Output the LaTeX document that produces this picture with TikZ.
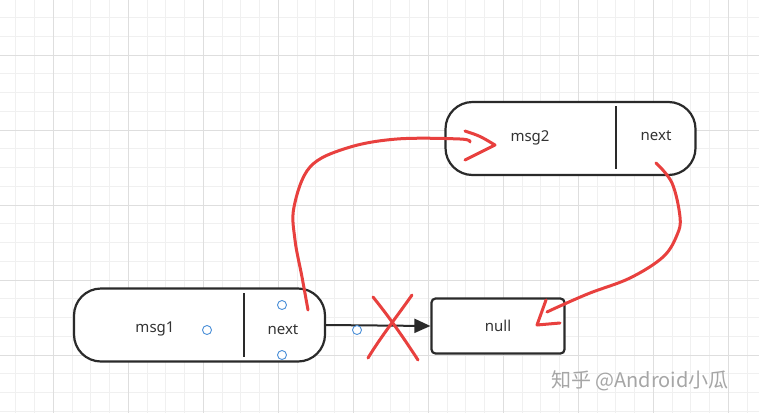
\documentclass[tikz,border=0pt]{standalone}
\usepackage{fontspec}
\setmainfont{Noto Sans}
\newfontfamily\cjk{Noto Sans CJK SC}
\usetikzlibrary{arrows.meta}
\definecolor{redink}{HTML}{E8403E}
\definecolor{portblue}{HTML}{4A8FD8}
\definecolor{gridminor}{HTML}{F0F0F0}
\definecolor{gridmajor}{HTML}{DEDEDE}
\definecolor{boxline}{HTML}{2A2A2A}
\tikzset{
  boxstyle/.style={draw=boxline, line width=2.2pt, fill=white, inner sep=0pt},
  divider/.style={draw=boxline, line width=2.4pt},
  lbl/.style={font=\fontsize{15}{18}\selectfont, text=black!80, inner sep=0pt},
  port/.style={circle, draw=portblue, line width=0.9pt, fill=white, minimum size=9pt, inner sep=0pt},
  redstroke/.style={draw=redink, line width=3pt, line cap=round, line join=round},
  gminor/.style={draw=gridminor, line width=0.8pt},
  gmajor/.style={draw=gridmajor, line width=0.9pt}
}
\begin{document}
\begin{tikzpicture}[x=1pt,y=-1pt]
\useasboundingbox (0,0) rectangle (759,413);
\fill[white] (0,0) rectangle (759,413);
% grid
\foreach \i in {0,...,40} {\draw[gminor] ({15.8+18.75*\i},0) -- ({15.8+18.75*\i},413);}
\foreach \i in {0,...,22} {\draw[gminor] (0,{17.5+18.75*\i}) -- (759,{17.5+18.75*\i});}
\foreach \i in {0,...,9} {\draw[gmajor] ({53.3+75*\i},0) -- ({53.3+75*\i},413);}
\foreach \i in {0,...,5} {\draw[gmajor] (0,{55+75*\i}) -- (759,{55+75*\i});}
% msg1
\node[boxstyle, rounded corners=27pt, minimum width=251pt, minimum height=73pt] (m1) at (199.5,325) {};
\draw[divider] (244,293) -- (244,357);
\node[lbl] (m1t) at (155,329) {msg1};
\node[lbl] (m1n) at (283,330) {next};
% null
\node[boxstyle, rounded corners=4pt, minimum width=133pt, minimum height=55pt] (nl) at (498,326) {};
\node[lbl] (nlt) at (498,326) {null};
% msg2
\node[boxstyle, rounded corners=27pt, minimum width=250pt, minimum height=73pt] (m2) at (570.5,138.5) {};
\draw[divider] (616,106) -- (616,169);
\node[lbl] (m2t) at (530,138) {msg2};
\node[lbl] (m2n) at (656,136) {next};
% black arrow
\draw[draw=boxline, line width=2pt, -{Triangle[length=16pt,width=14pt]}] (m1.east |- 0,325) coordinate (a0) -- (nl.west);
% ports
\node[port] (p1) at (207,330) {};
\node[port] (p2) at (282,305) {};
\node[port] (p3) at (282,355) {};
\node[port] (p4) at (357,330) {};
% red X
\draw[redstroke] (373,297) .. controls (390,318) and (405,340) .. (418,360);
\draw[redstroke] (412,295) .. controls (398,315) and (380,338) .. (368,358);
% red curve 1: msg1.next -> msg2
\coordinate (r1s) at (308,310);
\coordinate (r1e) at (470,142);
\draw[redstroke] plot[smooth, tension=0.6] coordinates {(r1s) (302,277) (295,240) (294,207) (310,167) (347,148) (397,139) (460,139) (r1e)};
\draw[redstroke] (465,131) .. controls (480,136) .. (495,145) .. controls (480,152) .. (465,160);
% red curve 2: msg2.next -> null
\coordinate (r2s) at (656,163);
\coordinate (r2e) at (537,325);
\draw[redstroke] plot[smooth, tension=0.6] coordinates {(r2s) (672,183) (680,217) (677,235) (663,257) (630,278) (590,293) (560,306) (547,312)};
\draw[redstroke] (546,300) .. controls (542,312) .. (r2e) -- (560,323);
% watermark
\node[font=\cjk\fontsize{20}{24}\selectfont, text=black!35, inner sep=0pt] (wm) at (640,381) {知乎 @Android小瓜};
\end{tikzpicture}
\end{document}
